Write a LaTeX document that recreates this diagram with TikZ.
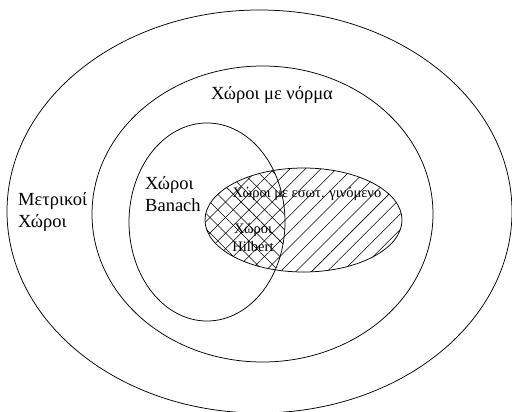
\documentclass[tikz,border=0pt]{standalone}
\usepackage{fontspec}
\setmainfont{Liberation Serif}
\usetikzlibrary{patterns.meta}

\begin{document}
\begin{tikzpicture}[
  x=1pt, y=-1pt,
  set/.style      = {draw=black, line width=0.75pt},
  hatch/.style    = {pattern={Lines[angle=45, distance=11pt, line width=0.55pt]}},
  xhatch/.style   = {pattern={Lines[angle=-45, distance=11pt, line width=0.55pt]}},
  biglbl/.style   = {font=\rmfamily\fontsize{18.5}{22}\selectfont, inner sep=0pt, align=left},
  smalllbl/.style = {font=\rmfamily\fontsize{14.5}{18}\selectfont, inner sep=0pt, align=center}
]
\useasboundingbox (0,0) rectangle (512,412);

%% ── Hatching: inner product spaces, Hilbert spaces crossed ──────────────────
\fill[hatch] (303.5,220) ellipse [x radius=98.5, y radius=52];
\begin{scope}
  \clip (207,222) ellipse [x radius=78, y radius=99];
  \fill[xhatch] (303.5,220) ellipse [x radius=98.5, y radius=52];
\end{scope}

%% ── Sets ─────────────────────────────────────────────────────────────────────
\draw[set] (259.5,211.5) ellipse [x radius=252.5, y radius=201.5]; % metric
\draw[set] (262.5,214)   ellipse [x radius=170.5, y radius=148];   % normed
\draw[set] (207,222)     ellipse [x radius=78,    y radius=99];    % Banach
\draw[set] (303.5,220)   ellipse [x radius=98.5,  y radius=52];    % inner product

%% ── Labels ───────────────────────────────────────────────────────────────────
\node[biglbl]             (normed) at (272,95)  {Χώροι με νόρμα};
\node[biglbl, anchor=west](metric) at (18,212)  {Μετρικοί\\Χώροι};
\node[biglbl, anchor=west](banach) at (145,194) {Χώροι\\Banach};
\node[smalllbl]           (inner)  at (307,194) {Χώροι με εσωτ. γινόμενο};
\node[smalllbl]           (hilb)   at (253,237) {Χώροι\\Hilbert};

\end{tikzpicture}
\end{document}
